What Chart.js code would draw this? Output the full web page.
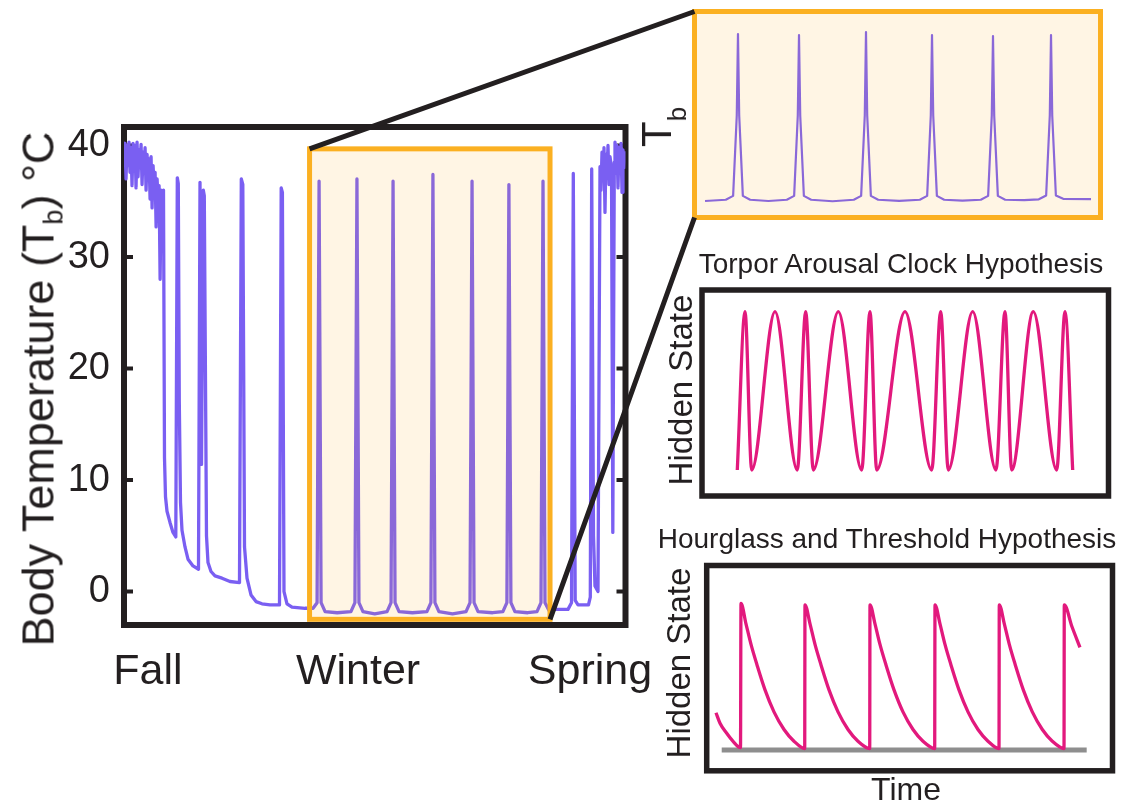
<!doctype html>
<html lang="en">
  <head>
    <meta charset="utf-8">
    <title>Torpor hypotheses</title>
    <script src="https://cdn.jsdelivr.net/npm/chart.js"></script>
    <style>
      body {
        margin: 0;
        background: #fff;
        font-family: 'Liberation Sans', Arial, sans-serif;
        color: #231f20;
      }
      #figure {
        position: relative;
        width: 1125px;
        height: 804px;
        overflow: hidden;
      }
      canvas {
        position: absolute;
      }
      .label {
        position: absolute;
        white-space: nowrap;
        line-height: 1;
        transform: translate(-50%, -50%);
      }
      .rot {
        transform: translate(-50%, -50%) rotate(-90deg);
      }
      .sb {
        font-size: 0.6em;
        position: relative;
      }
    </style>
  </head>
  <body>

    <div id="figure">
      <canvas id="mainChart" width="680" height="720" style="left:0;top:0"></canvas>
      <canvas id="insetChart" width="440" height="240" style="left:680px;top:0"></canvas>
      <canvas id="clockChart" width="430" height="230" style="left:690px;top:280px"></canvas>
      <canvas id="hourglassChart" width="440" height="230" style="left:690px;top:555px"></canvas>
      <canvas id="connectors" width="1125" height="804" style="left:0;top:0"></canvas>

      <!-- Text labels -->
      <div class="label rot" style="left:38px;top:389px;font-size:45px">Body Temperature (T<span class="sb" style="top:0.35em">b</span>) °C</div>
      <div class="label rot" style="left:657px;top:127px;font-size:42px">T<span class="sb" style="top:15px;font-size:26px">b</span></div>
      <div class="label" style="left:901px;top:264px;font-size:28px">Torpor Arousal Clock Hypothesis</div>
      <div class="label rot" style="left:680px;top:390px;font-size:33px">Hidden State</div>
      <div class="label" style="left:887px;top:539px;font-size:28px">Hourglass and Threshold Hypothesis</div>
      <div class="label rot" style="left:678px;top:663px;font-size:33px">Hidden State</div>
      <div class="label" style="left:906px;top:789px;font-size:32px">Time</div>
    </div>

    <script>
      // ---- Body temperature record (time in days, Tb in °C) ----
      const fallNoiseTime = [0, 0.4, 0.8, 1.2, 1.6, 2.0, 2.4, 2.8, 3.2, 3.6,
        4.0, 4.4, 4.8, 5.2, 5.6, 6.0, 6.4, 6.8, 7.2, 7.6,
        8.0, 8.4, 8.8, 9.2, 9.6, 10.0, 10.4, 10.8, 11.2, 11.6,
        12.0, 12.4, 12.8, 13.2, 13.6, 14.0, 14.4, 14.8, 15.2];
      const fallNoiseTemp = [39.5, 40.2, 37.0, 40.0, 38.2, 40.3, 37.6, 39.8, 36.4, 40.2,
        38.0, 40.0, 36.2, 40.3, 37.2, 39.6, 38.4, 40.1, 36.5, 39.4,
        37.5, 39.8, 36.0, 39.2, 37.0, 38.8, 35.2, 39.0, 34.4, 38.2,
        36.2, 37.6, 32.7, 37.0, 35.0, 36.4, 28.0, 36.0, 30.5];

      const fallTime = [15.75, 16.15, 16.55, 17.15, 18.34, 19.54, 20.66,
        21.26, 21.65, 22.05, 22.53, 23.13, 24.33, 25.52, 27.52, 29.71,
        30.31, 30.91, 31.62, 32.02, 32.90, 33.50, 34.70, 36.29, 39.08, 42.27, 46.06,
        46.78, 47.38, 48.06, 49.05, 50.65, 52.64, 55.03, 58.22, 62.01,
        62.69, 63.17, 63.81, 65.0, 67.0, 72.18, 75.4];
      const fallTemp = [36.0, 12.0, 8.5, 7.2, 6.2, 5.3, 4.9,
        37.1, 36.6, 17.0, 8.0, 5.5, 4.0, 2.9, 2.3, 2.0,
        36.7, 11.4, 36.0, 35.5, 5.0, 2.6, 1.8, 1.4, 1.2, 0.9, 0.8,
        37.0, 36.5, 4.0, 1.2, -0.3, -0.9, -1.1, -1.2, -1.2,
        36.2, 35.8, 0.0, -1.1, -1.4, -1.5, -1.5];

      const winterTime = [77.0, 77.8, 78.6, 80.2, 85.0,
        90.5, 92.1, 92.9, 93.7, 95.3, 100.0,
        104.9, 106.5, 107.3, 108.1, 109.7, 115.0,
        120.8, 122.4, 123.2, 124.0, 125.6, 131.0,
        136.4, 138.0, 138.8, 139.6, 141.2, 147.0,
        151.1, 152.7, 153.5, 154.3, 155.9, 161.0,
        164.7, 166.3, 167.1, 167.9, 169.5, 170.3];
      const winterTemp = [-1.0, 36.8, -1.0, -1.8, -1.9,
        -1.8, -1.0, 37.0, -1.0, -1.8, -2.0,
        -1.8, -1.0, 36.8, -1.0, -1.8, -1.9,
        -1.8, -1.0, 37.4, -1.0, -1.8, -2.0,
        -1.8, -1.0, 36.8, -1.0, -1.8, -1.9,
        -1.8, -1.0, 36.5, -1.0, -1.8, -1.9,
        -1.8, -1.0, 36.8, -1.0, -1.7, -1.6];

      const springTime = [177.07, 178.47, 179.18, 179.94, 181.06, 185.24, 185.96, 186.52, 187.24, 187.83, 189.03,
        189.83, 190.23, 190.63, 191.03, 191.42, 191.82, 192.22, 192.62, 193.02, 193.42, 193.82, 194.42,
        194.94, 195.53, 195.81, 196.21, 196.61, 197.01, 197.41, 197.81, 198.21, 198.61, 199.0, 199.4, 199.8];
      const springTemp = [-1.6, -1.0, 37.5, -0.8, -1.2, -1.2, -0.5, 37.9, 5.0, 0.5, 0.0,
        38.1, 36.0, 39.4, 37.0, 39.8, 34.0, 39.2, 37.5, 40.0, 36.5, 39.0, 38.0,
        5.3, 38.5, 40.3, 37.5, 40.0, 36.2, 39.8, 37.8, 40.2, 35.8, 39.6, 38.0, 39.5];

      const tempTicks = [0, 10, 20, 30, 40];
      const seasonLabels = ['Fall', 'Winter', 'Spring'];
      const seasonTicks = [9.57, 93.32, 185.84];

      // highlighted window in the main chart (days, °C)
      const zoomWindow = [74.0, 169.9];
      const zoomTempRange = [-2.49, 39.7];

      // ---- Zoomed Tb trace (arbitrary time 0-100) ----
      const insetTime = [2.59,
        7.71, 9.51, 10.41, 10.71, 11.01, 11.91, 13.71, 18.2,
        22.74, 24.54, 25.44, 25.74, 26.04, 26.94, 28.74, 34.0,
        39.24, 41.04, 41.94, 42.24, 42.54, 43.44, 45.24, 50.4,
        55.50, 57.30, 58.20, 58.50, 58.80, 59.70, 61.50, 66.0,
        70.52, 72.32, 73.22, 73.52, 73.82, 74.72, 76.52, 81.2,
        84.81, 86.61, 87.51, 87.81, 88.11, 89.01, 90.81, 97.66];
      const insetTemp = [-1.9,
        -1.6, -0.7, 18, 37.0, 18, -0.7, -1.6, -1.9,
        -1.6, -0.7, 18, 36.77, 18, -0.7, -1.6, -1.95,
        -1.6, -0.7, 18, 37.47, 18, -0.7, -1.6, -1.85,
        -1.6, -0.7, 18, 36.77, 18, -0.7, -1.6, -1.8,
        -1.6, -0.7, 18, 36.53, 18, -0.7, -1.6, -1.7,
        -1.5, -0.6, 18, 36.77, 18, -0.6, -1.4, -1.45];

      // ---- Torpor arousal clock hypothesis ----
      const clockTime = [8.68, 10.58, 12.23, 17.96, 23.44, 25.51, 27.38, 33.53, 39.29, 41.33, 42.98, 49.94,
        56.51, 58.72, 60.59, 66.59, 72.32, 74.54, 76.19, 81.50, 87.26, 89.30, 91.19];
      const clockState = [0, 1, 0, 1, 0, 1, 0, 1, 0, 1, 0, 1,
        0, 1, 0, 1, 0, 1, 0, 1, 0, 1, 0];

      // ---- Hourglass and threshold hypothesis ----
      const hourglassTime = [2.29, 3.28, 4.93, 6.55, 8.33,
        8.45, 9.68, 10.92, 12.40, 14.37, 16.58, 19.05, 21.51, 24.15,
        24.22, 25.46, 26.69, 28.17, 30.14, 32.36, 34.82, 37.28, 40.17,
        40.24, 41.47, 42.70, 44.18, 46.16, 48.37, 50.84, 53.30, 56.18,
        56.26, 57.49, 58.72, 60.20, 62.17, 64.39, 66.85, 69.32, 72.03,
        72.10, 73.34, 74.57, 76.05, 78.02, 80.24, 82.70, 85.17, 88.05,
        88.12, 90.02, 91.98];
      const hourglassState = [0.254, 0.182, 0.114, 0.057, 0.016,
        1.0, 0.86, 0.72, 0.58, 0.41, 0.26, 0.14, 0.06, 0.01,
        0.99, 0.86, 0.72, 0.58, 0.41, 0.26, 0.14, 0.06, 0.01,
        0.99, 0.86, 0.72, 0.58, 0.41, 0.26, 0.14, 0.06, 0.01,
        0.99, 0.86, 0.72, 0.58, 0.41, 0.26, 0.14, 0.06, 0.01,
        0.99, 0.86, 0.72, 0.58, 0.41, 0.26, 0.14, 0.06, 0.01,
        0.99, 0.84, 0.70];
      const thresholdTime = [3.70, 93.64];
      const thresholdState = [0, 0];

      const INK = '#231f20';
      const PURPLE = '#7a5ff2';
      const PINK = '#e2197d';
      const ORANGE = '#fbb021';
      const ORANGE_TINT = 'rgba(251,176,33,0.12)';

      Chart.defaults.font.family = "'Liberation Sans', Arial, sans-serif";
      Chart.defaults.color = INK;

      function toXY(xs, ys) {
        return xs.map((x, i) => ({ x: x, y: ys[i] }));
      }

      function hiddenScales(xmin, xmax, ymin, ymax) {
        return {
          x: { type: 'linear', display: false, min: xmin, max: xmax },
          y: { type: 'linear', display: false, min: ymin, max: ymax }
        };
      }

      const blackFrame = (width) => ({
        id: 'blackFrame',
        afterDraw(chart) {
          const { ctx, chartArea: a } = chart;
          ctx.save();
          ctx.strokeStyle = INK;
          ctx.lineWidth = width;
          ctx.strokeRect(a.left, a.top, a.right - a.left, a.bottom - a.top);
          ctx.restore();
        }
      });

      // Main chart: frame with inward ticks, highlighted winter window
      const mainDecor = {
        id: 'mainDecor',
        beforeDatasetsDraw(chart) {
          const { ctx, chartArea: a, scales } = chart;
          ctx.save();
          ctx.strokeStyle = INK;
          ctx.lineWidth = 6;
          ctx.strokeRect(a.left, a.top, a.right - a.left, a.bottom - a.top);
          ctx.lineWidth = 4;
          tempTicks.forEach(v => {
            const py = scales.y.getPixelForValue(v);
            ctx.beginPath();
            ctx.moveTo(a.left, py); ctx.lineTo(a.left + 9, py);
            ctx.moveTo(a.right, py); ctx.lineTo(a.right - 9, py);
            ctx.stroke();
          });
          ctx.restore();
        },
        afterDatasetsDraw(chart) {
          const { ctx, scales } = chart;
          const x0 = scales.x.getPixelForValue(zoomWindow[0]);
          const x1 = scales.x.getPixelForValue(zoomWindow[1]);
          const y0 = scales.y.getPixelForValue(zoomTempRange[1]);
          const y1 = scales.y.getPixelForValue(zoomTempRange[0]);
          ctx.save();
          ctx.fillStyle = ORANGE_TINT;
          ctx.fillRect(x0, y0, x1 - x0, y1 - y0);
          ctx.strokeStyle = ORANGE;
          ctx.lineWidth = 5;
          ctx.strokeRect(x0, y0, x1 - x0, y1 - y0);
          ctx.restore();
        }
      };

      const insetDecor = {
        id: 'insetDecor',
        afterDatasetsDraw(chart) {
          const { ctx, chartArea: a } = chart;
          ctx.save();
          ctx.fillStyle = ORANGE_TINT;
          ctx.fillRect(a.left, a.top, a.right - a.left, a.bottom - a.top);
          ctx.strokeStyle = ORANGE;
          ctx.lineWidth = 5;
          ctx.strokeRect(a.left, a.top, a.right - a.left, a.bottom - a.top);
          ctx.restore();
        }
      };

      const mainChart = new Chart(document.getElementById('mainChart'), {
        type: 'line',
        data: {
          datasets: [{
            data: toXY(
              fallNoiseTime.concat(fallTime, winterTime, springTime),
              fallNoiseTemp.concat(fallTemp, winterTemp, springTemp)
            ),
            borderColor: PURPLE,
            borderWidth: 3.3,
            borderJoinStyle: 'round',
            pointRadius: 0,
            tension: 0
          }]
        },
        options: {
          responsive: false,
          animation: false,
          layout: { padding: { left: 60, top: 127, right: 54.5, bottom: 0 } },
          plugins: { legend: { display: false }, tooltip: { enabled: false } },
          scales: {
            x: {
              type: 'linear', min: 0, max: 200,
              grid: { display: false, drawTicks: false },
              border: { display: false },
              afterBuildTicks: (scale) => { scale.ticks = seasonTicks.map(v => ({ value: v })); },
              afterFit: (scale) => { scale.height = 95; },
              ticks: {
                autoSkip: false, maxRotation: 0, minRotation: 0, padding: 21,
                font: { size: 43 },
                callback: (value, index) => seasonLabels[index]
              }
            },
            y: {
              type: 'linear', min: -3, max: 41.66,
              grid: { display: false, drawTicks: false },
              border: { display: false },
              afterBuildTicks: (scale) => { scale.ticks = tempTicks.map(v => ({ value: v })); },
              afterFit: (scale) => { scale.width = 64; },
              ticks: { padding: 14, font: { size: 38 } }
            }
          }
        },
        plugins: [mainDecor]
      });

      const insetChart = new Chart(document.getElementById('insetChart'), {
        type: 'line',
        data: {
          datasets: [{
            data: toXY(insetTime, insetTemp),
            borderColor: PURPLE,
            borderWidth: 2.2,
            borderJoinStyle: 'round',
            pointRadius: 0,
            tension: 0
          }]
        },
        options: {
          responsive: false,
          animation: false,
          layout: { padding: { left: 14.5, top: 11.5, right: 19.5, bottom: 22.5 } },
          plugins: { legend: { display: false }, tooltip: { enabled: false } },
          scales: hiddenScales(0, 100, -5.74, 42.24)
        },
        plugins: [insetDecor]
      });

      new Chart(document.getElementById('clockChart'), {
        type: 'line',
        data: {
          datasets: [{
            data: toXY(clockTime, clockState),
            borderColor: PINK,
            borderWidth: 3.3,
            pointRadius: 0,
            cubicInterpolationMode: 'monotone'
          }]
        },
        options: {
          responsive: false,
          animation: false,
          layout: { padding: { left: 12, top: 10, right: 11.5, bottom: 14 } },
          plugins: { legend: { display: false }, tooltip: { enabled: false } },
          scales: hiddenScales(0, 100, -0.164, 1.137)
        },
        plugins: [blackFrame(5.5)]
      });

      new Chart(document.getElementById('hourglassChart'), {
        type: 'line',
        data: {
          datasets: [{
            data: toXY(hourglassTime, hourglassState),
            borderColor: PINK,
            borderWidth: 3.3,
            pointRadius: 0,
            cubicInterpolationMode: 'monotone',
            order: 0
          }, {
            data: toXY(thresholdTime, thresholdState),
            borderColor: '#8e8e8e',
            borderWidth: 5,
            borderCapStyle: 'butt',
            pointRadius: 0,
            order: 1
          }]
        },
        options: {
          responsive: false,
          animation: false,
          layout: { padding: { left: 16.7, top: 10.5, right: 17.5, bottom: 14.2 } },
          plugins: { legend: { display: false }, tooltip: { enabled: false } },
          scales: hiddenScales(0, 100, -0.142, 1.258)
        },
        plugins: [blackFrame(5.5)]
      });

      // Connector lines from the highlighted window to the zoomed trace
      function drawConnectors() {
        const ctx = document.getElementById('connectors').getContext('2d');
        const s = mainChart.scales;
        const bx0 = s.x.getPixelForValue(zoomWindow[0]);
        const bx1 = s.x.getPixelForValue(zoomWindow[1]);
        const byTop = s.y.getPixelForValue(zoomTempRange[1]);
        const byBot = s.y.getPixelForValue(zoomTempRange[0]);
        const ia = insetChart.chartArea;
        const insetLeft = 680 + ia.left;
        ctx.strokeStyle = INK;
        ctx.lineWidth = 5;
        ctx.beginPath();
        ctx.moveTo(bx0, byTop); ctx.lineTo(insetLeft, ia.top);
        ctx.moveTo(bx1, byBot); ctx.lineTo(insetLeft, ia.bottom);
        ctx.stroke();
      }
      drawConnectors();
    </script>
  </body>
</html>
